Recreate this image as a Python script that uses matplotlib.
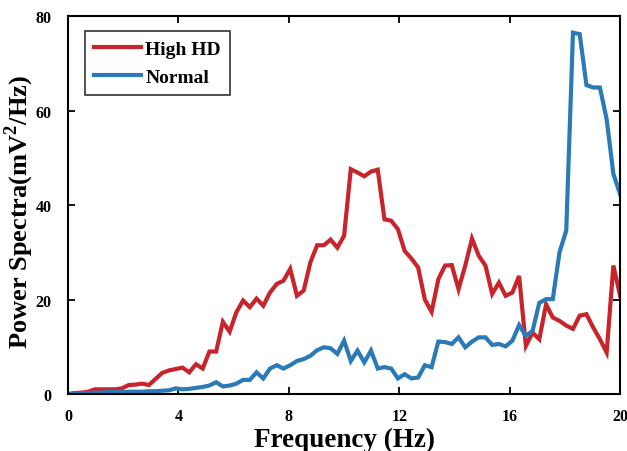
import numpy as np
import matplotlib
matplotlib.use("Agg")
import matplotlib.pyplot as plt

plt.rcParams['font.family'] = ['Liberation Serif', 'DejaVu Serif']
plt.rcParams['mathtext.fontset'] = 'custom'
plt.rcParams['mathtext.rm'] = 'Liberation Serif:bold'
plt.rcParams['mathtext.bf'] = 'Liberation Serif:bold'

freq = np.linspace(0, 20, 83)

high_hd = [0, 0.2, 0.3, 0.5, 1.0, 1.0, 1.0, 1.0, 1.2, 1.9,
           2.0, 2.2, 1.9, 3.2, 4.5, 5.0, 5.3, 5.6, 4.6, 6.3,
           5.4, 9.0, 9.0, 15.3, 13.2, 17.3, 19.8, 18.4, 20.2, 18.7,
           21.5, 23.3, 24.0, 26.5, 20.8, 21.9, 27.9, 31.5, 31.5, 32.7,
           31.0, 33.5, 47.6, 46.9, 46.1, 47.1, 47.5, 37.0, 36.7, 34.9,
           30.3, 28.7, 26.8, 20.0, 17.4, 24.3, 27.2, 27.3, 22.2, 27.2,
           32.9, 29.3, 27.2, 21.2, 23.6, 20.8, 21.5, 25.0, 10.2, 13.0,
           11.6, 19.0, 16.2, 15.5, 14.5, 13.8, 16.6, 16.9, 14.1, 11.6,
           8.8, 27.2, 20.8]

normal = [0, 0.1, 0.2, 0.2, 0.3, 0.3, 0.4, 0.4, 0.4, 0.5,
          0.5, 0.5, 0.6, 0.6, 0.7, 0.8, 1.2, 1.0, 1.1, 1.3,
          1.5, 1.8, 2.5, 1.6, 1.8, 2.2, 3.0, 3.0, 4.6, 3.3,
          5.4, 6.1, 5.4, 6.1, 7.0, 7.4, 8.1, 9.3, 9.9, 9.7,
          8.5, 11.3, 7.0, 9.2, 6.7, 9.2, 5.4, 5.7, 5.4, 3.3,
          4.2, 3.3, 3.5, 6.1, 5.7, 11.1, 11.0, 10.6, 12.0, 9.9,
          11.1, 12.0, 12.0, 10.4, 10.6, 10.1, 11.3, 14.6, 12.3, 13.4,
          19.3, 20.1, 20.1, 30.0, 34.6, 76.5, 76.2, 65.4, 64.9, 64.9,
          58.2, 46.6, 42.3]

xticks = [0, 4, 8, 12, 16, 20]
yticks = [0, 20, 40, 60, 80]

fig = plt.figure(figsize=(6.27, 4.52), dpi=100)
ax = fig.add_axes([0.1085, 0.126, 0.8805, 0.836])

ax.plot(freq, high_hd, color='#C8242B', lw=3.0, label='High HD', solid_joinstyle='miter')
ax.plot(freq, normal, color='#2A7AB8', lw=3.0, label='Normal', solid_joinstyle='miter')

ax.set_xlim(0, 20)
ax.set_ylim(0, 80)
ax.set_xticks(xticks)
ax.set_yticks(yticks)
ax.tick_params(direction='in', top=True, right=True, length=5, width=1.3,
               labelsize=11.5)
ax.tick_params(axis='x', pad=10)
ax.tick_params(axis='y', pad=12)
for lab in ax.get_xticklabels() + ax.get_yticklabels():
    lab.set_fontweight('bold')
for s in ax.spines.values():
    s.set_linewidth(1.5)

ax.set_xlabel('Frequency (Hz)', fontsize=19.5, fontweight='bold', labelpad=2)
ax.set_ylabel(r'Power Spectra(mV$^\mathbf{2}$/Hz)', fontsize=19, fontweight='bold')
ax.yaxis.set_label_coords(-0.058, 0.485)

leg = ax.legend(loc='upper left', bbox_to_anchor=(0.031, 0.96), borderaxespad=0,
                prop={'weight': 'bold', 'size': 14}, frameon=True, fancybox=False,
                edgecolor='black', handlelength=2.4, borderpad=0.45, labelspacing=0.55,
                handletextpad=0.25)
leg.get_frame().set_linewidth(1.2)

fig.savefig('out.png', dpi=100)
